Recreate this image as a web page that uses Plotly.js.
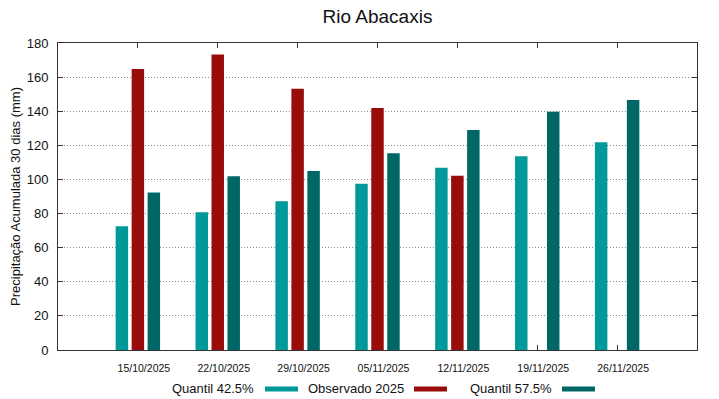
<!DOCTYPE html>
<html>
<head>
<meta charset="utf-8">
<script src="https://cdn.plot.ly/plotly-3.0.1.min.js"></script>
<style>html,body{margin:0;padding:0;background:#fff;}#chart{width:719px;height:399px;}</style>
</head>
<body>
<div id="chart"></div>
<script>
const categories = ["15/10/2025","22/10/2025","29/10/2025","05/11/2025","12/11/2025","19/11/2025","26/11/2025"];
const quantil425 = [72.5, 80.8, 87.2, 97.5, 106.9, 113.6, 121.8];
const observado2025 = [164.8, 173.3, 153.2, 141.9, 102.2, null, null];
const quantil575 = [92.4, 101.8, 104.9, 115.3, 129.0, 139.7, 146.6];
const seriesNames = ["Quantil 42.5%", "Observado 2025", "Quantil 57.5%"];
const seriesColors = ["#009999", "#990c0c", "#006666"];
const yTicks = [0, 20, 40, 60, 80, 100, 120, 140, 160, 180];

const font = "Liberation Sans, Arial, sans-serif";
const seriesData = [quantil425, observado2025, quantil575];
const traces = seriesData.map((vals, i) => ({
  type: "bar",
  name: seriesNames[i],
  x: categories,
  y: vals,
  marker: {color: seriesColors[i], line: {width: 0}},
  showlegend: false,
  hoverinfo: "x+y+name"
}));

// legend in gnuplot style (text then swatch), placed in paper coords
const L = 58, R = 697, T = 43, B = 350;
const px = v => (v - L) / (R - L);
const py = v => (B - v) / (B - T);
const legendItems = [
  {textEnd: 256, sw0: 265, sw1: 298},
  {textEnd: 406, sw0: 414, sw1: 447},
  {textEnd: 554, sw0: 562, sw1: 595}
];
const annotations = legendItems.map((it, i) => ({
  xref: "paper", yref: "paper",
  x: px(it.textEnd), y: py(388),
  xanchor: "right", yanchor: "middle",
  text: seriesNames[i], showarrow: false,
  font: {family: font, size: 13, color: "#111"}
}));
const shapes = legendItems.map((it, i) => ({
  type: "rect", xref: "paper", yref: "paper",
  x0: px(it.sw0), x1: px(it.sw1), y0: py(391.5), y1: py(386.5),
  fillcolor: seriesColors[i], line: {width: 0}
}));

const layout = {
  width: 719, height: 399,
  margin: {l: L, r: 719 - R, t: T, b: 399 - B, pad: 0},
  paper_bgcolor: "#fff", plot_bgcolor: "#fff",
  title: {text: "Rio Abacaxis", font: {family: font, size: 19, color: "#111"}, x: (L + R) / 2 / 719, xanchor: "center", y: 1 - 16 / 399, yanchor: "middle"},
  barmode: "group",
  bargap: 0.4,
  bargroupgap: 0.22,
  showlegend: false,
  font: {family: font, color: "#111"},
  xaxis: {
    type: "category",
    range: [-1, 7],
    tickvals: categories, ticktext: categories,
    ticks: "inside", ticklen: 5, tickcolor: "#333", tickwidth: 1,
    showline: true, linecolor: "#333", linewidth: 1, mirror: "ticks",
    showgrid: false, zeroline: false,
    tickfont: {family: font, size: 10.5, color: "#111"},
    ticklabelshift: 6,
    ticklabelstandoff: 8,
    layer: "below traces",
    fixedrange: true
  },
  yaxis: {
    range: [0, 180],
    tickvals: yTicks,
    ticks: "inside", ticklen: 5, tickcolor: "#333", tickwidth: 1,
    showline: true, linecolor: "#333", linewidth: 1, mirror: "ticks",
    showgrid: true, gridcolor: "#8a8a8a", griddash: "1px,2px", gridwidth: 1,
    zeroline: false,
    tickfont: {family: font, size: 13, color: "#111"},
    ticklabelstandoff: 6,
    title: {text: "Precipitação Acumulada 30 dias (mm)", font: {family: font, size: 13, color: "#111"}, standoff: 3},
    layer: "below traces",
    fixedrange: true
  },
  annotations: annotations,
  shapes: shapes
};

Plotly.newPlot("chart", traces, layout, {displayModeBar: false, staticPlot: true});
</script>
</body>
</html>
